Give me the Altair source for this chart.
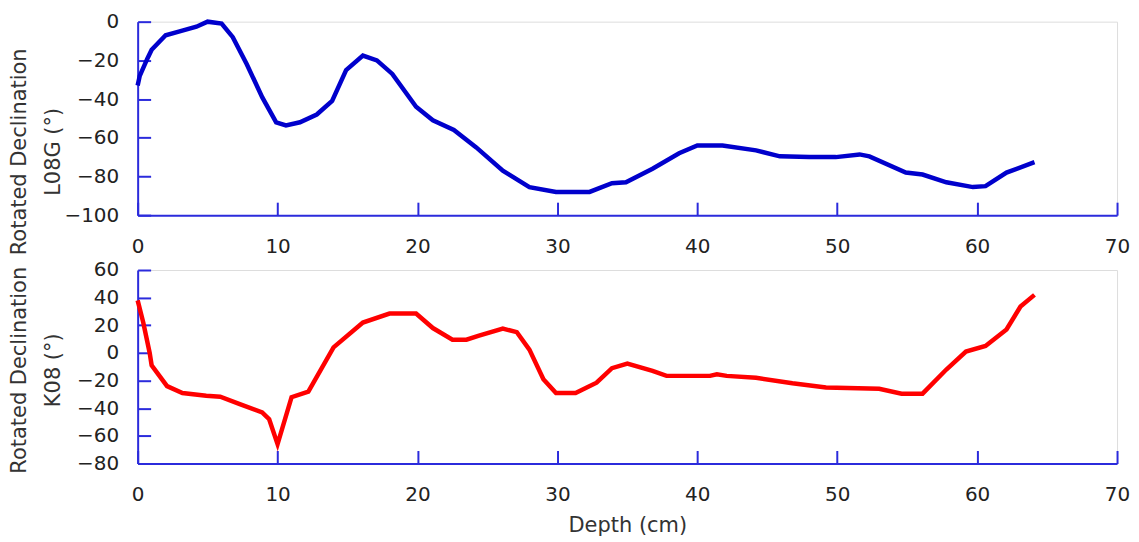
import altair as alt
import pandas as pd

# L08G core
depth_l08g = [0, 0.15, 0.7, 1, 2, 3, 4.2, 5, 6, 6.8, 7.8, 8.9, 9.9, 10.6, 11.6,
              12.8, 13.9, 14.9, 16.1, 17.1, 18.2, 19.9, 21.1, 22.6, 24.2, 26.1,
              28, 29.9, 32.3, 33.9, 34.9, 36.8, 38.7, 40, 41.8, 44.2, 45.9, 48,
              49.9, 51.6, 52.3, 54.9, 56.1, 57.8, 59.7, 60.6, 62.1, 64.1]
decl_l08g = [-33, -28, -19, -14.5, -7, -5, -2.6, 0, -1, -8, -22, -39, -52, -53.6,
             -52, -48, -41, -25, -17.5, -20, -27, -44, -51, -56, -65, -77, -85.5,
             -88, -88, -83.5, -83, -76, -68, -64, -64, -66.5, -69.6, -70, -70,
             -68.6, -69.6, -78, -79, -83, -85.5, -85, -78, -72.6]

# K08 core
depth_k08 = [0, 0.4, 0.86, 1, 2.1, 3.2, 4.9, 5.9, 7.3, 8.9, 9.4, 10, 11, 12.2,
             14, 16.1, 18, 19.9, 21.1, 22.5, 23.5, 24.4, 26.1, 27.1, 28, 29,
             29.9, 31.3, 32.8, 33.9, 35, 36.8, 37.8, 40.9, 41.4, 42.1, 44.2,
             46.8, 49.2, 53, 54.6, 56.1, 57.8, 59.2, 60.6, 62.1, 63.1, 64.1]
decl_k08 = [38, 22, 0, -9, -24, -29, -31, -31.7, -37, -43, -48, -66, -32, -28,
            4, 22, 28.5, 28.5, 18, 9.6, 9.6, 12.5, 17.6, 15, 2.4, -19, -29, -29,
            -21.5, -11, -7.7, -13, -16.6, -16.6, -15.4, -16.6, -18, -22, -25,
            -26, -29.5, -29.5, -12, 1, 5, 17, 33.6, 42]

x_ticks = [0, 10, 20, 30, 40, 50, 60, 70]
y_ticks_top = [0, -20, -40, -60, -80, -100]
y_ticks_bottom = [60, 40, 20, 0, -20, -40, -60, -80]

AXIS_BLUE = "#2b2bdc"
FONT = "DejaVu Sans"

df_top = pd.DataFrame({"depth": depth_l08g, "decl": decl_l08g})
df_bottom = pd.DataFrame({"depth": depth_k08, "decl": decl_k08})

inward = alt.ExprRef(expr="-13")
common_axis = dict(
    grid=False,
    domainColor=AXIS_BLUE,
    domainWidth=2,
    tickColor=AXIS_BLUE,
    tickWidth=2,
    tickSize=inward,
    labelFont=FONT,
    labelFontSize=20,
    labelColor="#222222",
    labelOverlap=False,
    titleFont=FONT,
    titleFontSize=21,
    titleFontWeight="normal",
    titleColor="#333333",
)


def panel(df, color, y_ticks, y_domain, y_title, title_y, x_title=None):
    x_axis = alt.Axis(values=x_ticks, labelPadding=34, labelFlush=False,
                      title=x_title, titleY=62, titleBaseline="middle",
                      **common_axis)
    y_axis = alt.Axis(values=y_ticks, labelPadding=32, title=y_title,
                      titleX=-108, titleY=title_y, titleLineHeight=34,
                      **common_axis)
    return (
        alt.Chart(df)
        .mark_line(color=color, strokeWidth=4.5, strokeJoin="miter")
        .encode(
            x=alt.X("depth:Q", scale=alt.Scale(domain=[0, 70], nice=False),
                    axis=x_axis),
            y=alt.Y("decl:Q", scale=alt.Scale(domain=y_domain, nice=False),
                    axis=y_axis),
            order="depth:Q",
        )
        .properties(width=982, height=194)
    )


top = panel(df_top, "#0000cc", y_ticks_top, [-100, 0],
            ["Rotated Declination", "L08G (°)"], 130)
bottom = panel(df_bottom, "#ff0000", y_ticks_bottom, [-80, 60],
               ["Rotated Declination", "K08  (°)"], 100, x_title="Depth (cm)")

chart = (
    alt.vconcat(top, bottom, spacing=55, bounds="flush")
    .properties(padding={"left": 0, "top": 2, "right": 0, "bottom": 0})
    .configure_view(stroke=None)
    .configure(background="white")
)

chart.save("out.html", embed_options={"renderer": "svg", "actions": False})
